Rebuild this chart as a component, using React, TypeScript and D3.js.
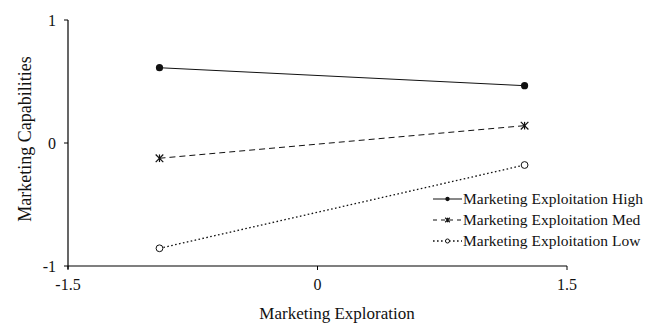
import React from "react";
import * as d3 from "d3";

const xValues = [-0.95, 1.245];
const seriesNames = [
  "Marketing Exploitation High",
  "Marketing Exploitation Med",
  "Marketing Exploitation Low",
];
const highValues = [0.612, 0.466];
const medValues = [-0.124, 0.141];
const lowValues = [-0.856, -0.179];
const xTicks = [-1.5, 0, 1.5];
const yTicks = [-1, 0, 1];

const W = 657;
const H = 327;
const FONT = "Liberation Serif, Times New Roman, Times, serif";

function Marker({ kind, x, y, s = 1 }: { kind: string; x: number; y: number; s?: number }) {
  if (kind === "high") return <circle cx={x} cy={y} r={3.6 * s} fill="#111" />;
  if (kind === "low")
    return <circle cx={x} cy={y} r={3.4 * s} fill="#fff" stroke="#111" strokeWidth={1} />;
  const r = 3.8 * s;
  return (
    <g stroke="#111" strokeWidth={1.2}>
      <line x1={x - r} y1={y - r} x2={x + r} y2={y + r} />
      <line x1={x - r} y1={y + r} x2={x + r} y2={y - r} />
      <line x1={x} y1={y - r} x2={x} y2={y + r} />
    </g>
  );
}

export default function App() {
  const x = d3.scaleLinear().domain([-1.5, 1.5]).range([68, 567]);
  const y = d3.scaleLinear().domain([-1, 1]).range([266, 20]);
  const line = d3
    .line<number>()
    .x((_, i) => x(xValues[i]))
    .y((d) => y(d));

  const series = [
    { name: seriesNames[0], values: highValues, kind: "high", dash: "none", width: 1 },
    { name: seriesNames[1], values: medValues, kind: "med", dash: "6,4", width: 1 },
    { name: seriesNames[2], values: lowValues, kind: "low", dash: "1.6,2.4", width: 1.3 },
  ];

  return (
    <svg
      width={W}
      height={H}
      style={{ position: "absolute", left: 0, top: 0, background: "#fff", fontFamily: FONT }}
    >
      <rect width={W} height={H} fill="#fff" />
      <line x1={68} y1={y(1)} x2={68} y2={y(-1) + 3} stroke="#000" strokeWidth={1.2} />
      <line x1={68} y1={y(-1)} x2={x(1.5)} y2={y(-1)} stroke="#000" strokeWidth={1.2} />
      {yTicks.map((t) => (
        <g key={"y" + t}>
          <line x1={64} y1={y(t)} x2={68} y2={y(t)} stroke="#000" />
          <text x={56} y={y(t)} dy="0.35em" textAnchor="end" fontSize={16} fill="#111">
            {t}
          </text>
        </g>
      ))}
      {xTicks.map((t) => (
        <g key={"x" + t}>
          <line x1={x(t)} y1={y(-1)} x2={x(t)} y2={y(-1) + 4} stroke="#000" />
          <text x={x(t)} y={290} textAnchor="middle" fontSize={16} fill="#111">
            {t}
          </text>
        </g>
      ))}
      <text x={337} y={319} textAnchor="middle" fontSize={17} fill="#111">
        Marketing Exploration
      </text>
      <text
        transform={`translate(31,139) rotate(-90)`}
        textAnchor="middle"
        fontSize={18}
        fill="#111"
      >
        Marketing Capabilities
      </text>
      {series.map((s) => (
        <g key={s.name}>
          <path
            d={line(s.values) || ""}
            fill="none"
            stroke="#111"
            strokeWidth={s.width}
            strokeDasharray={s.dash}
          />
          {s.values.map((v, i) => (
            <Marker key={i} kind={s.kind} x={x(xValues[i])} y={y(v)} />
          ))}
        </g>
      ))}
      {series.map((s, i) => {
        const ly = 199 + i * 21;
        return (
          <g key={"lg" + i}>
            <line
              x1={433}
              x2={462}
              y1={ly}
              y2={ly}
              stroke="#111"
              strokeWidth={s.width}
              strokeDasharray={s.dash === "6,4" ? "4,4" : s.dash}
            />
            <Marker kind={s.kind} x={447.5} y={ly} s={0.6} />
            <text x={463} y={ly} dy="0.35em" fontSize={15.5} fill="#111">
              {s.name}
            </text>
          </g>
        );
      })}
    </svg>
  );
}
